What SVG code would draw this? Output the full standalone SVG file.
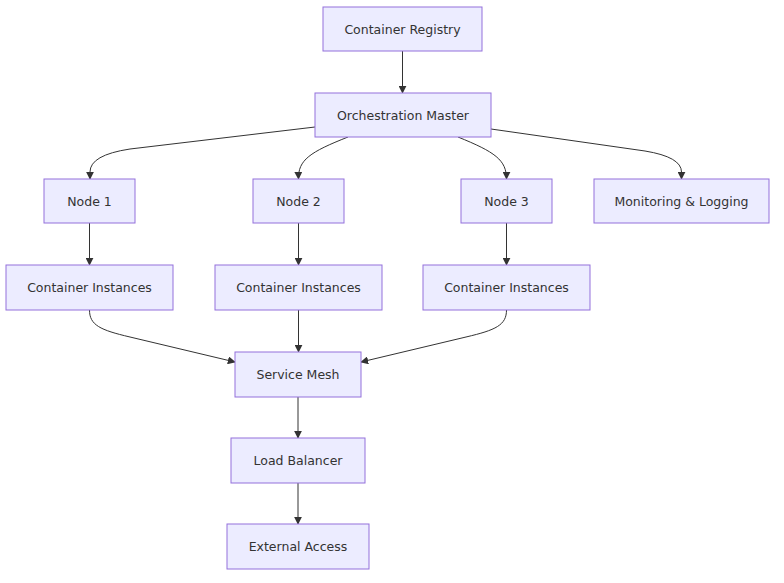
<svg xmlns="http://www.w3.org/2000/svg" width="784" height="583" viewBox="0 0 784 583">
<style>
.n rect{fill:#ECECFF;stroke:#9370DB;stroke-width:1}
.n text{font-family:"Trebuchet MS","DejaVu Sans","Liberation Sans",sans-serif;font-size:12.5px;fill:#333;text-anchor:middle;dominant-baseline:central}
.e path{fill:none;stroke:#333;stroke-width:1;marker-end:url(#arr)}
</style>
<defs>
<marker id="arr" viewBox="0 0 10 10" refX="9" refY="5" markerWidth="8" markerHeight="8" markerUnits="userSpaceOnUse" orient="auto">
<path d="M0,0 L10,5 L0,10 z" fill="#333"/>
</marker>
</defs>
<rect width="784" height="583" fill="#fff"/>
<g id="edges" class="e">
<path d="M402.5,51 L402.5,93"/>
<path d="M315,127 L130,149 Q90,155 90,172 L90,179"/>
<path d="M348,137 C310,152 298,160 298.5,179"/>
<path d="M458,137 C495,152 506.5,160 506.5,179"/>
<path d="M491,129 L645,151 Q681.5,157 681.5,172 L681.5,179"/>
<path d="M89.5,223 L89.5,265"/>
<path d="M298.5,223 L298.5,265"/>
<path d="M506.5,223 L506.5,265"/>
<path d="M89.5,310 C89.5,325 100,330 130,337 L235,362"/>
<path d="M298.5,310 L298.5,352"/>
<path d="M506.5,310 C506.5,325 496,330 466,337 L361,362"/>
<path d="M298,397 L298,438"/>
<path d="M298,483 L298,524"/>
</g>
<g id="registry" class="n"><rect x="323" y="7" width="159" height="44"/><text x="402.5" y="29">Container Registry</text></g>
<g id="master" class="n"><rect x="315" y="93" width="176" height="44"/><text x="403" y="115">Orchestration Master</text></g>
<g id="node1" class="n"><rect x="44" y="179" width="91" height="44"/><text x="89.5" y="201">Node 1</text></g>
<g id="node2" class="n"><rect x="253" y="179" width="91" height="44"/><text x="298.5" y="201">Node 2</text></g>
<g id="node3" class="n"><rect x="461" y="179" width="91" height="44"/><text x="506.5" y="201">Node 3</text></g>
<g id="monitoring" class="n"><rect x="594" y="179" width="175" height="44"/><text x="681.5" y="201">Monitoring &amp; Logging</text></g>
<g id="ci1" class="n"><rect x="6" y="265" width="167" height="45"/><text x="89.5" y="287.5">Container Instances</text></g>
<g id="ci2" class="n"><rect x="215" y="265" width="167" height="45"/><text x="298.5" y="287.5">Container Instances</text></g>
<g id="ci3" class="n"><rect x="423" y="265" width="167" height="45"/><text x="506.5" y="287.5">Container Instances</text></g>
<g id="mesh" class="n"><rect x="235" y="352" width="126" height="45"/><text x="298" y="374.5">Service Mesh</text></g>
<g id="lb" class="n"><rect x="231" y="438" width="134" height="45"/><text x="298" y="460.5">Load Balancer</text></g>
<g id="external" class="n"><rect x="227" y="524" width="142" height="45"/><text x="298" y="546.5">External Access</text></g>
</svg>
